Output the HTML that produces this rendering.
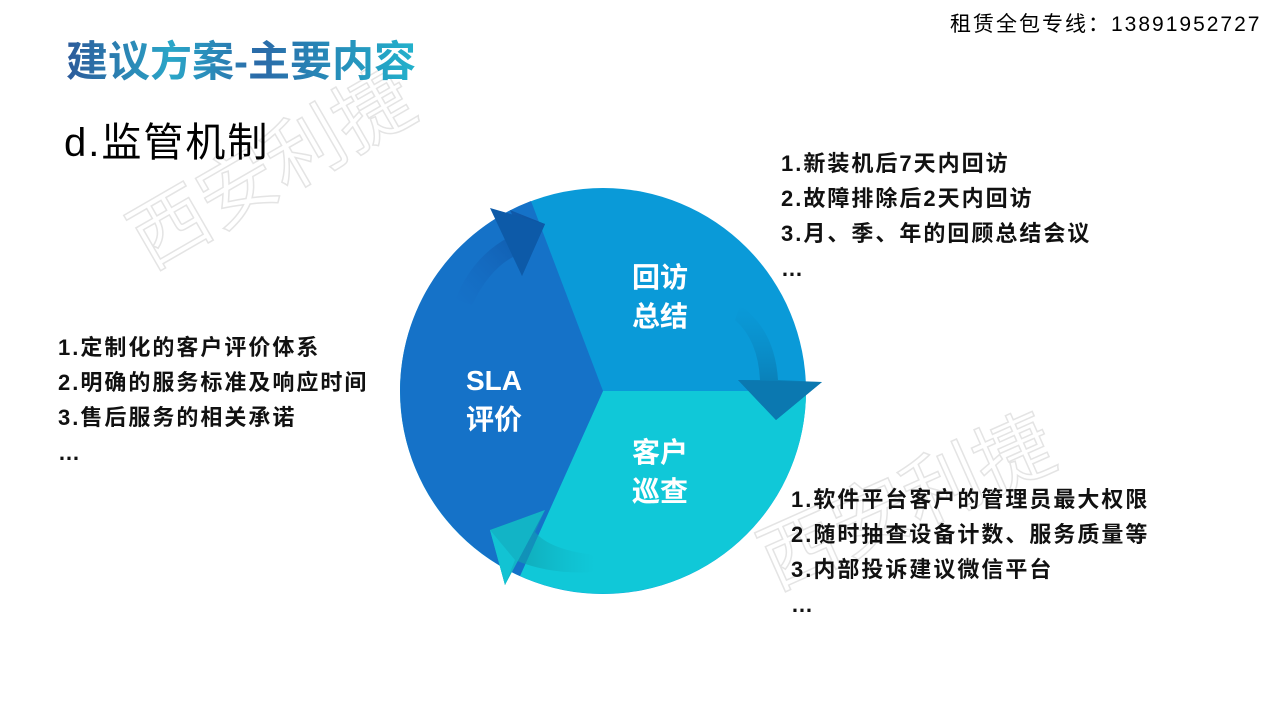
<!DOCTYPE html>
<html><head><meta charset="utf-8"><style>
html,body{margin:0;padding:0;background:#fff;}
body{width:1280px;height:720px;position:relative;overflow:hidden;font-family:"Liberation Sans","Noto Sans CJK SC",sans-serif;}
.t{position:absolute;white-space:nowrap;color:#000;}
.b{font-weight:bold;line-height:35px;color:#111;}
</style></head><body>
<svg width="1280" height="720" style="position:absolute;left:0;top:0">
<defs>
<linearGradient id="tg" x1="0" x2="1" y1="0" y2="0">
<stop offset="0" stop-color="#2c5a9a"/><stop offset="0.3" stop-color="#2aa6c8"/><stop offset="0.55" stop-color="#2a6aa8"/><stop offset="1" stop-color="#23b2cc"/></linearGradient>
<linearGradient id="a1" x1="0" y1="1" x2="1" y2="0"><stop offset="0" stop-color="#1565c0" stop-opacity="0"/><stop offset="1" stop-color="#0d4f9a"/></linearGradient>
<linearGradient id="a2" x1="0" y1="0" x2="0" y2="1"><stop offset="0" stop-color="#0a85c0" stop-opacity="0"/><stop offset="1" stop-color="#0b6c9e"/></linearGradient>
<linearGradient id="a3" x1="1" y1="0" x2="0" y2="0"><stop offset="0" stop-color="#10b0c0" stop-opacity="0"/><stop offset="1" stop-color="#0f9aa8"/></linearGradient>
</defs>
<g font-family="Liberation Sans,Noto Sans CJK SC,sans-serif" font-size="78" fill="none" stroke="#e4e4e4" stroke-width="1.5">
<text x="150" y="270" transform="rotate(-30 150 270)">西安利捷</text>
<text x="775" y="590" transform="rotate(-24 775 590)">西安利捷</text>
</g>
<circle cx="603" cy="391" r="203" fill="#0a9ad8"/>
<path d="M603 391 L806 391 A203 203 0 0 1 520 576 Z" fill="#10c8d8"/>
<path d="M603 391 L531 201 A203 203 0 0 0 520 576 Z" fill="#1572c8"/>
<path d="M455 300 Q475 250 520 232 L510 210 L545 224 L522 276 L515 256 Q490 268 472 305 Z" fill="url(#a1)"/>
<path d="M490 208 L545 224 L522 276 Z" fill="#0d5aa8"/>
<path d="M740 305 Q775 330 778 380 L822 382 L776 420 L738 380 L760 380 Q758 340 735 320 Z" fill="url(#a2)"/>
<path d="M738 380 L822 382 L776 420 Z" fill="#0b78b0"/>
<path d="M595 555 Q550 550 535 532 L545 510 L490 530 L505 585 L515 560 Q550 575 595 572 Z" fill="url(#a3)"/>
<path d="M545 510 L490 530 L505 585 Z" fill="#12b4c6"/>
<path d="M490 530 L505 585 L515 560 Z" fill="#12c3d3"/>
<g fill="#fff" font-weight="bold" font-size="28" font-family="Liberation Sans,Noto Sans CJK SC,sans-serif" text-anchor="middle">
<text x="494" y="390">SLA</text><text x="494" y="429">评价</text>
<text x="660" y="287">回访</text><text x="660" y="326">总结</text>
<text x="660" y="462">客户</text><text x="660" y="501">巡查</text>
</g>
<text x="66" y="76" font-size="42" font-weight="bold" fill="url(#tg)" font-family="Liberation Sans,Noto Sans CJK SC,sans-serif">建议方案-主要内容</text>
</svg>
<div class="t" style="left:950px;top:8px;font-size:21px;letter-spacing:2px;">租赁全包专线：13891952727</div>
<div class="t" style="left:64px;top:110px;font-size:40px;letter-spacing:2px;">d.监管机制</div>
<div class="t b" style="left:58px;top:330px;font-size:22px;letter-spacing:2px;">1.定制化的客户评价体系<br>2.明确的服务标准及响应时间<br>3.售后服务的相关承诺<br>…</div>
<div class="t b" style="left:781px;top:146px;font-size:22px;letter-spacing:2px;">1.新装机后7天内回访<br>2.故障排除后2天内回访<br>3.月、季、年的回顾总结会议<br>…</div>
<div class="t b" style="left:791px;top:482px;font-size:22px;letter-spacing:2px;">1.软件平台客户的管理员最大权限<br>2.随时抽查设备计数、服务质量等<br>3.内部投诉建议微信平台<br>…</div>
</body></html>
